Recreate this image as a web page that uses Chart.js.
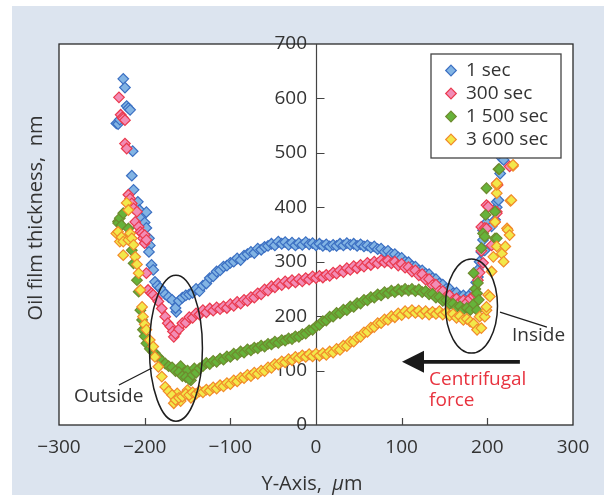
<!DOCTYPE html>
<html>
<head>
<meta charset="utf-8">
<script src="https://cdn.jsdelivr.net/npm/chart.js@4.4.1/dist/chart.umd.min.js"></script>
<style>
  html, body { margin: 0; padding: 0; background: #ffffff; }
  canvas { display: block; }
</style>
</head>
<body>
<canvas id="film" width="604" height="495"></canvas>
<script>
// Oil film thickness across the contact for four running times.
// Each entry: [position on the Y-axis (µm), film thickness (nm)].
const seriesLabels = ['1 sec', '300 sec', '1 500 sec', '3 600 sec'];
const xTickValues = [-300, -200, -100, 0, 100, 200, 300];
const yTickValues = [0, 100, 200, 300, 400, 500, 600, 700];

const film1s = [
  [-233,554],[-231,553],[-229,561],[-225,636],[-223,620],[-221,586],[-219,582],[-217,579],[-214,503],[-215,458],
  [-213,432],[-208,410],[-206,395],[-198,391],[-205,380],[-200,372],[-198,362],[-195,343],[-194,330],[-195,318],
  [-192,294],[-190,285],[-188,263],[-185,256],[-182,252],[-179,246],[-176,240],[-172,235],[-168,230],[-163,208],
  [-164,215],[-160,228],[-156,234],[-152,238],[-148,240],[-144,243],[-140,250],[-136,246],[-132,256],[-128,260],
  [-124,270],[-120,273],[-116,282],[-112,284],[-108,291],[-104,293],[-100,298],[-96,300],[-92,306],[-88,303],
  [-84,311],[-80,314],[-76,318],[-72,316],[-68,324],[-64,322],[-60,327],[-56,329],[-52,333],[-48,330],
  [-44,337],[-40,333],[-36,336],[-32,331],[-28,335],[-24,330],[-20,334],[-16,331],[-12,336],[-8,332],
  [-4,334],[0,330],[4,333],[8,329],[12,332],[16,328],[20,331],[24,329],[28,333],[32,330],
  [36,334],[40,331],[44,333],[48,329],[52,332],[56,328],[60,330],[64,326],[68,328],[72,323],
  [76,324],[80,318],[84,320],[88,314],[92,314],[96,308],[100,307],[104,300],[108,299],[112,292],
  [116,291],[120,284],[124,284],[128,278],[132,277],[136,270],[140,268],[144,260],[148,258],[152,250],
  [156,250],[160,242],[164,243],[168,236],[172,238],[176,234],[180,240],[184,247],
  [187,262],[189,272],[189,285],[191,300],[193,318],[197,321],[195,340],[195,358],[199,372],[205,365],
  [209,377],[211,400],[211,410],[213,413],[215,462],[217,490],[219,487]
];

const film300s = [
  [-230,602],[-228,570],[-226,565],[-225,563],[-223,560],[-223,517],[-221,508],[-219,423],[-217,416],[-215,407],
  [-213,398],[-209,392],[-211,373],[-207,364],[-205,355],[-203,352],[-202,343],[-200,349],[-200,334],[-198,340],
  [-198,279],[-196,248],[-192,242],[-190,239],[-186,232],[-184,227],[-180,214],[-176,199],[-173,187],[-170,181],
  [-167,172],[-166,162],
  [-164,168],[-160,176],[-156,187],[-152,188],[-148,198],[-144,197],[-140,205],[-136,203],[-132,211],[-128,207],
  [-124,214],[-120,210],[-116,216],[-112,213],[-108,218],[-104,215],[-100,222],[-96,219],[-92,226],[-88,223],
  [-84,230],[-80,228],[-76,235],[-72,234],[-68,242],[-64,240],[-60,249],[-56,247],[-52,255],[-48,253],
  [-44,260],[-40,257],[-36,264],[-32,260],[-28,266],[-24,262],[-20,268],[-16,264],[-12,270],[-8,267],
  [-4,273],[0,270],[4,274],[8,271],[12,276],[16,274],[20,280],[24,278],[28,284],[32,281],
  [36,288],[40,285],[44,292],[48,288],[52,294],[56,291],[60,298],[64,294],[68,300],[72,297],
  [76,303],[80,299],[84,302],[88,297],[92,300],[96,293],[100,296],[104,289],[108,290],[112,282],
  [116,284],[120,275],[124,277],[128,267],[132,268],[136,257],[140,258],[144,246],[148,246],[152,236],
  [156,238],[160,229],[164,232],[168,226],[172,229],[176,225],[180,232],[184,237],
  [187,240],[189,266],[191,280],[193,320],[193,364],[195,298],[197,362],[199,361],[199,404],[201,401],
  [205,330],[209,373],[211,392],[211,389],[211,444],[212,441],[226,475]
];

const film1500s = [
  [-231,374],[-231,371],[-229,380],[-227,367],[-225,389],[-221,343],[-219,361],[-215,321],[-213,297],[-209,266],
  [-207,245],[-205,211],[-203,193],[-202,175],[-200,163],[-198,150],[-194,140],[-190,134],[-188,132],[-184,125],
  [-158,108],[-154,96],[-150,100],[-146,82],[-142,104],
  [-180,118],[-176,113],[-172,108],[-168,106],[-164,99],[-160,97],[-156,90],[-152,88],[-148,84],[-144,92],
  [-140,96],[-136,104],[-132,108],[-128,114],[-124,112],[-120,118],[-116,116],[-112,122],[-108,120],[-104,126],
  [-100,125],[-96,131],[-92,129],[-88,135],[-84,133],[-80,139],[-76,137],[-72,142],[-68,141],[-64,146],
  [-60,144],[-56,149],[-52,148],[-48,153],[-44,151],[-40,156],[-36,155],[-32,159],[-28,158],[-24,163],
  [-20,162],[-16,167],[-12,168],[-8,174],[-4,175],[0,181],[4,184],[8,191],[12,192],[16,199],
  [20,199],[24,206],[28,205],[32,212],[36,211],[40,218],[44,217],[48,224],[52,223],[56,230],
  [60,229],[64,235],[68,234],[72,240],[76,238],[80,244],[84,242],[88,247],[92,244],[96,249],
  [100,246],[104,250],[108,247],[112,250],[116,246],[120,249],[124,244],[128,246],[132,240],[136,241],
  [140,234],[144,235],[148,228],[152,229],[156,222],[160,223],[164,216],[168,218],[172,212],[176,215],
  [180,211],[184,222],
  [186,250],[188,242],[188,211],[184,279],[189,261],[190,230],[193,325],[195,352],[197,346],[198,386],
  [199,435],[209,343],[209,392],[211,343],[213,470],[214,470]
];

const film3600s = [
  [-233,352],[-231,355],[-229,337],[-227,345],[-225,337],[-225,312],[-221,408],[-219,395],[-219,340],[-217,352],
  [-215,343],[-213,331],[-211,309],[-209,295],[-207,279],[-205,248],[-203,217],[-202,199],[-200,185],[-198,175],
  [-194,156],[-190,144],[-188,125],[-184,107],[-180,89],[-176,70],
  [-166,40],[-162,58],[-158,44],[-150,64],[-146,50],
  [-172,62],[-168,55],[-164,46],[-160,50],[-156,52],[-152,57],[-148,55],[-144,60],[-140,57],[-136,62],
  [-132,60],[-128,65],[-124,63],[-120,69],[-116,67],[-112,73],[-108,71],[-104,77],[-100,75],[-96,82],
  [-92,80],[-88,87],[-84,86],[-80,92],[-76,90],[-72,96],[-68,94],[-64,100],[-60,99],[-56,106],
  [-52,105],[-48,112],[-44,111],[-40,117],[-36,115],[-32,121],[-28,119],[-24,125],[-20,123],[-16,128],
  [-12,125],[-8,130],[-4,126],[0,131],[4,127],[8,132],[12,129],[16,135],[20,133],[24,140],
  [28,138],[32,146],[36,145],[40,153],[44,153],[48,161],[52,162],[56,170],[60,171],[64,179],
  [68,180],[72,187],[76,187],[80,194],[84,193],[88,200],[92,198],[96,205],[100,202],[104,209],
  [108,205],[112,211],[116,206],[120,210],[124,204],[128,209],[132,203],[136,208],[140,204],[144,209],
  [148,203],[152,207],[156,201],[160,204],[164,197],[168,200],[172,193],[176,195],[180,190],
  [184,186],[188,175],[191,199],[193,178],[197,199],[199,211],[199,217],[201,239],[203,236],[205,282],
  [207,309],[211,328],[217,315],[219,300],[221,328],[209,373],[223,361],[224,358],[226,349],[227,412],
  [228,413],[211,426],[211,441],[211,444],[230,476],[230,478]
];

const FONT = '"Open Sans", "Liberation Sans", sans-serif';
const INK = '#333333';
const MARK_R = 5.3;
// thickness labels sit just left of the zero-position axis
const Y_LABEL_ANCHOR = -10.5;

const styles = [
  { fill: '#82b4e4', edge: '#3b6fc2' },
  { fill: '#f28db6', edge: '#ea3a4e' },
  { fill: '#66b33a', edge: '#6e8b2e' },
  { fill: '#f2e84a', edge: '#f28a2a' }
];
const seriesData = [film1s, film300s, film1500s, film3600s];

const datasets = seriesData.map((rows, i) => ({
  label: seriesLabels[i],
  data: rows.map(([p, t]) => ({ x: p, y: t })),
  pointStyle: 'rectRot',
  pointRadius: MARK_R,
  pointBorderWidth: 1.2,
  backgroundColor: styles[i].fill,
  borderColor: styles[i].edge,
  order: seriesData.length - i
}));

const fmtTick = v => (v < 0 ? '\u2212' + Math.abs(v) : String(v));

function diamond(ctx, cx, cy, r) {
  ctx.beginPath();
  ctx.moveTo(cx, cy - r);
  ctx.lineTo(cx + r, cy);
  ctx.lineTo(cx, cy + r);
  ctx.lineTo(cx - r, cy);
  ctx.closePath();
}

// light panel behind the figure and white plotting field
const panel = {
  id: 'panel',
  beforeDraw(chart) {
    const { ctx, chartArea: a, width, height } = chart;
    ctx.save();
    ctx.fillStyle = '#ffffff';
    ctx.fillRect(0, 0, width, height);
    ctx.fillStyle = '#dce4ef';
    ctx.fillRect(12, 6, width - 12, height - 6);
    ctx.fillStyle = '#ffffff';
    ctx.fillRect(a.left, a.top, a.right - a.left, a.bottom - a.top);
    ctx.restore();
  }
};

// frame, zero-position axis line and the inward tick marks
const frame = {
  id: 'frame',
  beforeDatasetsDraw(chart) {
    const { ctx, chartArea: a, scales: { x, y } } = chart;
    ctx.save();
    ctx.strokeStyle = '#2a2a2a';
    ctx.lineWidth = 1.3;
    ctx.strokeRect(a.left, a.top, a.right - a.left, a.bottom - a.top);
    ctx.strokeStyle = '#444444';
    ctx.lineWidth = 1.2;
    const x0 = Math.round(x.getPixelForValue(0)) + 0.5;
    ctx.beginPath();
    ctx.moveTo(x0, a.top);
    ctx.lineTo(x0, a.bottom);
    yTickValues.forEach(v => {
      if (v <= y.min || v >= y.max) return;
      const py = Math.round(y.getPixelForValue(v)) + 0.5;
      ctx.moveTo(x0, py);
      ctx.lineTo(x0 + 8, py);
    });
    xTickValues.forEach(v => {
      if (v === 0 || v <= x.min || v >= x.max) return;
      const px = Math.round(x.getPixelForValue(v)) + 0.5;
      ctx.moveTo(px, a.bottom);
      ctx.lineTo(px, a.bottom - 7);
    });
    ctx.stroke();
    ctx.restore();
  }
};

// notes, arrow, legend and the axis titles
const notes = {
  id: 'notes',
  afterDatasetsDraw(chart) {
    const { ctx, chartArea: a, scales: { x, y } } = chart;
    const px = v => x.getPixelForValue(v);
    const py = v => y.getPixelForValue(v);
    ctx.save();

    ctx.strokeStyle = '#1e1e1e';
    ctx.lineWidth = 1.5;
    ctx.beginPath();
    ctx.ellipse(px(-163.5), py(141), 26.5, 73, 0, 0, Math.PI * 2);
    ctx.stroke();
    ctx.beginPath();
    ctx.ellipse(px(181.5), py(218.5), 26, 47, 0, 0, Math.PI * 2);
    ctx.stroke();

    ctx.lineWidth = 1.3;
    ctx.beginPath();
    ctx.moveTo(px(-230), py(73.5));
    ctx.lineTo(px(-191.4), py(104.7));
    ctx.moveTo(px(214.8), py(207.6));
    ctx.lineTo(px(269.6), py(180));
    ctx.stroke();

    ctx.font = '19px ' + FONT;
    ctx.fillStyle = INK;
    ctx.textBaseline = 'middle';
    ctx.textAlign = 'left';
    ctx.fillText('Outside', px(-282.5), py(51.4));
    ctx.fillText('Inside', px(228.8), py(163.5));

    // centrifugal force arrow
    const tail = px(238), tip = px(100.4), ay = py(116);
    ctx.strokeStyle = '#1a1a1a';
    ctx.fillStyle = '#1a1a1a';
    ctx.lineWidth = 3.6;
    ctx.beginPath();
    ctx.moveTo(tail, ay);
    ctx.lineTo(tip + 18, ay);
    ctx.stroke();
    ctx.beginPath();
    ctx.moveTo(tip, ay);
    ctx.lineTo(tip + 22, ay - 11);
    ctx.lineTo(tip + 22, ay + 11);
    ctx.closePath();
    ctx.fill();

    ctx.fillStyle = '#e8333f';
    ctx.fillText('Centrifugal', px(132), py(82.7));
    ctx.fillText('force', px(132), py(44));

    // legend
    const lw = 130, lh = 104;
    const lx = a.right - 142, ly = a.top + 10;
    ctx.fillStyle = '#ffffff';
    ctx.fillRect(lx, ly, lw, lh);
    ctx.strokeStyle = '#444444';
    ctx.lineWidth = 1.3;
    ctx.strokeRect(lx, ly, lw, lh);
    chart.data.datasets.forEach((ds, i) => {
      const ry = ly + 16.5 + i * 23;
      diamond(ctx, lx + 20, ry, MARK_R);
      ctx.fillStyle = ds.backgroundColor;
      ctx.fill();
      ctx.lineWidth = 1.2;
      ctx.strokeStyle = ds.borderColor;
      ctx.stroke();
      ctx.fillStyle = INK;
      ctx.fillText(ds.label, lx + 35, ry);
    });

    // horizontal axis title with italic micro sign
    const cx = (a.left + a.right) / 2 - 4, ty = 484;
    const parts = [
      { t: 'Y-Axis,  ', f: '20px ' + FONT },
      { t: '\u03bc', f: 'italic 20px ' + FONT },
      { t: 'm', f: '20px ' + FONT }
    ];
    let total = 0;
    parts.forEach(p => { ctx.font = p.f; p.w = ctx.measureText(p.t).width; total += p.w; });
    let cur = cx - total / 2;
    ctx.fillStyle = INK;
    parts.forEach(p => { ctx.font = p.f; ctx.fillText(p.t, cur, ty); cur += p.w; });

    // vertical axis title
    ctx.translate(36, 218);
    ctx.rotate(-Math.PI / 2);
    ctx.font = '20px ' + FONT;
    ctx.textAlign = 'center';
    ctx.fillText('Oil film thickness,  nm', 0, 0);

    ctx.restore();
  }
};

new Chart(document.getElementById('film'), {
  type: 'scatter',
  data: { datasets },
  plugins: [panel, frame, notes],
  options: {
    responsive: false,
    animation: false,
    events: [],
    layout: { padding: { top: 44, right: 31, left: 59, bottom: 0 } },
    plugins: { legend: { display: false }, tooltip: { enabled: false } },
    scales: {
      x: {
        type: 'linear',
        position: 'bottom',
        min: -300,
        max: 300,
        afterBuildTicks: s => { s.ticks = xTickValues.map(v => ({ value: v })); },
        ticks: { callback: fmtTick, font: { family: FONT, size: 19 }, color: INK, padding: 11, maxRotation: 0 },
        grid: { display: false, drawTicks: false },
        border: { display: false },
        afterFit: s => { s.height = 70; }
      },
      y: {
        type: 'linear',
        position: { x: Y_LABEL_ANCHOR },
        min: 0,
        max: 700,
        afterBuildTicks: s => { s.ticks = yTickValues.map(v => ({ value: v })); },
        ticks: { callback: fmtTick, font: { family: FONT, size: 19 }, color: INK, padding: 0 },
        grid: { display: false },
        border: { display: false }
      }
    }
  }
});
</script>
</body>
</html>
